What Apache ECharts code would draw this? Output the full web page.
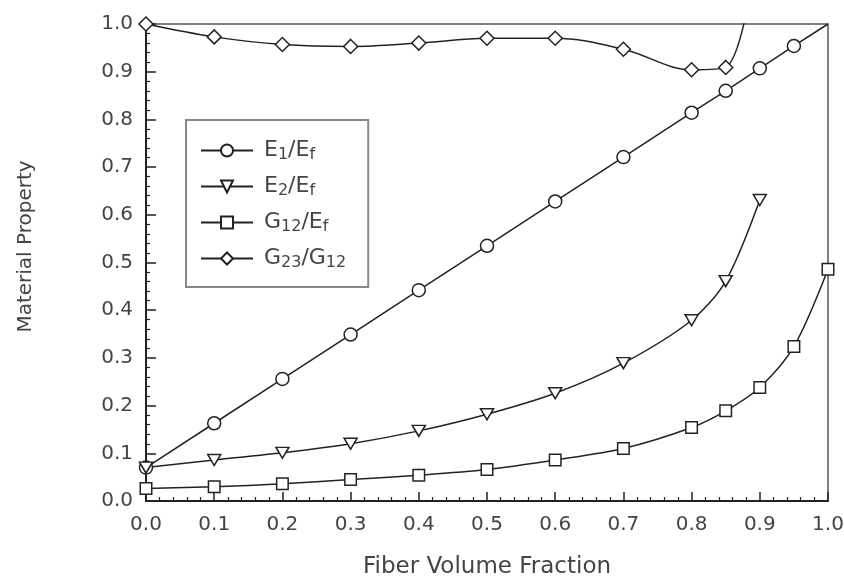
<!DOCTYPE html>
<html>
<head>
<meta charset="utf-8">
<script src="https://cdn.jsdelivr.net/npm/echarts@6/dist/echarts.min.js"></script>
<style>
  html, body { margin: 0; padding: 0; background: #fff; }
  #chart { width: 844px; height: 581px; }
</style>
</head>
<body>
<div id="chart"></div>
<script>
// Fiber volume fractions sampled for each property
const vfE1  = [0.0, 0.1, 0.2, 0.3, 0.4, 0.5, 0.6, 0.7, 0.8, 0.85, 0.9, 0.95, 1.0];
const vfE2  = [0.0, 0.1, 0.2, 0.3, 0.4, 0.5, 0.6, 0.7, 0.8, 0.85, 0.9];
const vfG12 = [0.0, 0.1, 0.2, 0.3, 0.4, 0.5, 0.6, 0.7, 0.8, 0.85, 0.9, 0.95, 1.0];
const vfG23 = [0.0, 0.1, 0.2, 0.3, 0.4, 0.5, 0.6, 0.7, 0.8, 0.85, 0.9];

// Normalised material properties
const e1Ef   = [0.070, 0.163, 0.256, 0.349, 0.442, 0.535, 0.628, 0.721, 0.814, 0.860, 0.907, 0.954, 1.000];
const e2Ef   = [0.070, 0.086, 0.101, 0.120, 0.147, 0.182, 0.226, 0.289, 0.379, 0.461, 0.631];
const g12Ef  = [0.026, 0.030, 0.036, 0.045, 0.054, 0.066, 0.086, 0.110, 0.154, 0.189, 0.238, 0.324, 0.486];
const g23G12 = [1.000, 0.973, 0.957, 0.953, 0.960, 0.970, 0.970, 0.947, 0.904, 0.909, 1.200];

// Points drawn without a marker (end of a curve or beyond the frame)
const hideE1  = [1.0];
const hideG23 = [0.9];

const seriesNames = ['E1/Ef', 'E2/Ef', 'G12/Ef', 'G23/G12'];
const legendRich = {
  'E1/Ef':   '{m|E}{s|1}{m|/E}{s|f}',
  'E2/Ef':   '{m|E}{s|2}{m|/E}{s|f}',
  'G12/Ef':  '{m|G}{s|12}{m|/E}{s|f}',
  'G23/G12': '{m|G}{s|23}{m|/G}{s|12}'
};

const ink = '#222';
const textInk = '#444';
const font = 'DejaVu Sans, Liberation Sans, sans-serif';

function pairs(xs, ys, hidden) {
  return xs.map((x, i) => {
    const item = { value: [x, ys[i]] };
    if (hidden && hidden.indexOf(x) >= 0) item.symbol = 'none';
    return item;
  });
}

function lineSeries(name, data, symbol, size, smooth) {
  return {
    name: name,
    type: 'line',
    data: data,
    smooth: smooth,
    symbol: symbol,
    symbolSize: size,
    clip: true,
    lineStyle: { color: ink, width: 1.5 },
    itemStyle: { color: '#fff', borderColor: ink, borderWidth: 1.5 },
    emphasis: { disabled: true }
  };
}

const triDown = 'path://M0,0 L13,0 L6.5,11 Z';

const chart = echarts.init(document.getElementById('chart'), null, { renderer: 'canvas' });
chart.setOption({
  animation: false,
  backgroundColor: '#fff',
  grid: {
    left: 146, right: 16, top: 24, bottom: 80,
    containLabel: false,
    outerBoundsMode: 'none',
    show: true, borderColor: '#555', borderWidth: 1.5, backgroundColor: 'transparent'
  },
  legend: {
    orient: 'vertical',
    left: 186, top: 120,
    padding: [18, 22, 16, 14],
    itemGap: 11,
    itemWidth: 52,
    itemHeight: 15,
    borderColor: '#888',
    borderWidth: 2,
    backgroundColor: '#fff',
    data: seriesNames,
    formatter: name => legendRich[name],
    textStyle: {
      color: textInk,
      fontFamily: font,
      padding: [0, 0, 0, 6],
      rich: {
        m: { fontSize: 22, lineHeight: 24, fontFamily: font, color: textInk },
        s: { fontSize: 16, lineHeight: 16, padding: [9, 0, 0, 0], fontFamily: font, color: textInk }
      }
    }
  },
  xAxis: {
    type: 'value',
    min: 0, max: 1, interval: 0.1,
    name: 'Fiber Volume Fraction',
    nameLocation: 'middle',
    nameGap: 55,
    nameTextStyle: { fontSize: 23, color: textInk, fontFamily: font },
    axisLine: { show: true, lineStyle: { color: ink, width: 2 } },
    axisTick: { show: true, inside: true, length: 9, lineStyle: { color: ink, width: 1.5 } },
    minorTick: { show: true, splitNumber: 5, length: 4, lineStyle: { color: ink, width: 1.2 } },
    splitLine: { show: false },
    axisLabel: { formatter: v => v.toFixed(1), fontSize: 20, color: textInk, fontFamily: font, margin: 14 }
  },
  yAxis: {
    type: 'value',
    min: 0, max: 1, interval: 0.1,
    name: 'Material Property',
    nameLocation: 'middle',
    nameGap: 110,
    nameRotate: 90,
    nameTextStyle: { fontSize: 20, color: textInk, fontFamily: font, padding: [0, 0, 0, 32] },
    axisLine: { show: true, lineStyle: { color: ink, width: 2 } },
    axisTick: { show: true, inside: true, length: 10, lineStyle: { color: ink, width: 1.5 } },
    minorTick: { show: true, splitNumber: 5, length: 4, lineStyle: { color: ink, width: 1.2 } },
    splitLine: { show: false },
    axisLabel: { formatter: v => v.toFixed(1), fontSize: 20, color: textInk, fontFamily: font, margin: 13 }
  },
  series: [
    lineSeries('E1/Ef', pairs(vfE1, e1Ef, hideE1), 'circle', 13, false),
    lineSeries('E2/Ef', pairs(vfE2, e2Ef), triDown, [13, 11], 0.3),
    lineSeries('G12/Ef', pairs(vfG12, g12Ef), 'rect', 11.5, 0.3),
    lineSeries('G23/G12', pairs(vfG23, g23G12, hideG23), 'diamond', 14, 0.35)
  ]
});
</script>
</body>
</html>
